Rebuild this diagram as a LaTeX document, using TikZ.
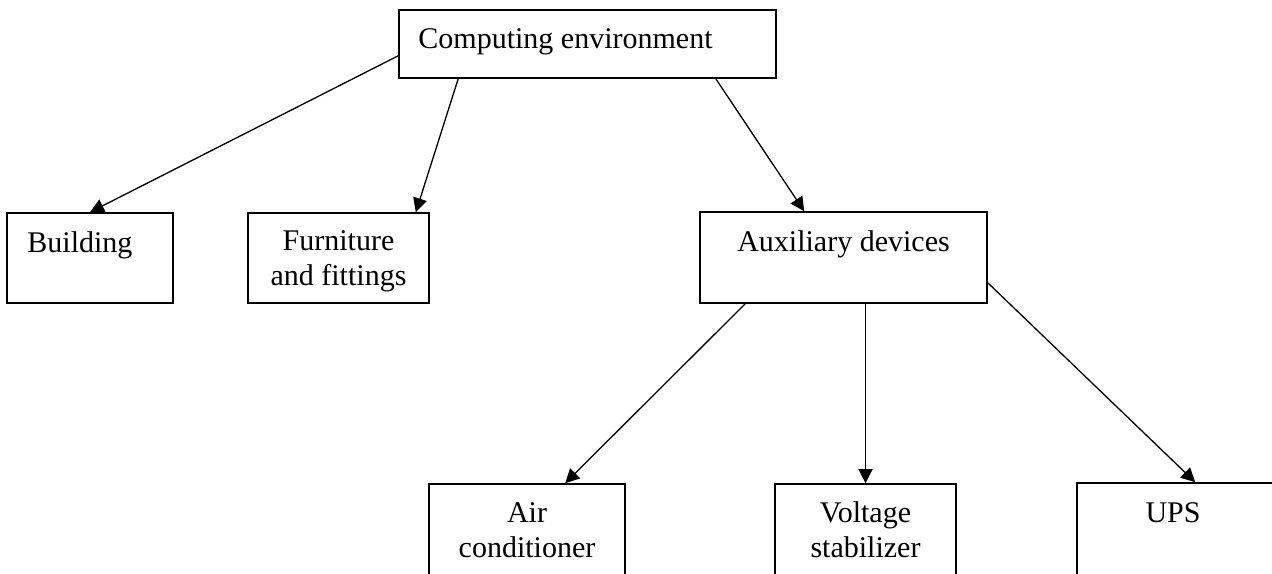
\documentclass[tikz,border=0pt]{standalone}
\usepackage{fontspec}
\setmainfont{Liberation Serif}
\usetikzlibrary{arrows.meta,calc}
\tikzset{
  box/.style={draw=black, line width=0.8pt, rectangle, inner sep=0pt},
  lbl/.style={inner sep=0pt, font=\fontsize{15pt}{17.5pt}\selectfont},
  conn/.style={draw=black, line width=0.65pt, -{Triangle[length=7pt,width=7pt]}}
}
\begin{document}
\begin{tikzpicture}[x=0.5pt,y=-0.5pt]
\useasboundingbox (0,0) rectangle (1272,573);
\clip (0,0) rectangle (1272,573);
% boxes
\node[box, minimum width=188.5pt, minimum height=34pt] (comp) at (587.5,44) {};
\node[box, minimum width=83pt, minimum height=45pt] (build) at (90,258) {};
\node[box, minimum width=90.5pt, minimum height=45pt] (furn) at (338.5,258) {};
\node[box, minimum width=143.5pt, minimum height=45.5pt] (aux) at (843.5,257.5) {};
\node[box, minimum width=98pt, minimum height=50pt] (air) at (527,534) {};
\node[box, minimum width=90.5pt, minimum height=50pt] (volt) at (865.5,534) {};
\node[box, minimum width=106.5pt, minimum height=50pt] (ups) at (1183.5,533) {};
% texts
\node[lbl, anchor=base west] (tcomp) at (418,48) {Computing environment};
\node[lbl, anchor=base west] (tbuild) at (27,252) {Building};
\node[lbl, anchor=base] (tfurnA) at (338.5,250) {Furniture};
\node[lbl, anchor=base] (tfurnB) at (338.5,285) {and fittings};
\node[lbl, anchor=base] (taux) at (843.5,251) {Auxiliary devices};
\node[lbl, anchor=base] (tairA) at (527,522) {Air};
\node[lbl, anchor=base] (tairB) at (527,557) {conditioner};
\node[lbl, anchor=base] (tvoltA) at (865.5,522) {Voltage};
\node[lbl, anchor=base] (tvoltB) at (865.5,557) {stabilizer};
\node[lbl, anchor=base] (tups) at (1173,522) {UPS};
% connectors
\draw[conn] ($(comp.south west)+(0,-23)$) -- (build.north);
\draw[conn] ($(comp.south west)+(60,0)$) -- ($(furn.north east)+(-14,0)$);
\draw[conn] ($(comp.south east)+(-61,0)$) -- ($(aux.north west)+(105,0)$);
\draw[conn] ($(aux.south west)+(46,0)$) -- ($(air.north west)+(137,0)$);
\draw[conn] (volt.north |- aux.south) -- (volt.north);
\draw[conn] ($(aux.south east)+(0,-21)$) -- ($(ups.north west)+(119,0)$);
\end{tikzpicture}
\end{document}
